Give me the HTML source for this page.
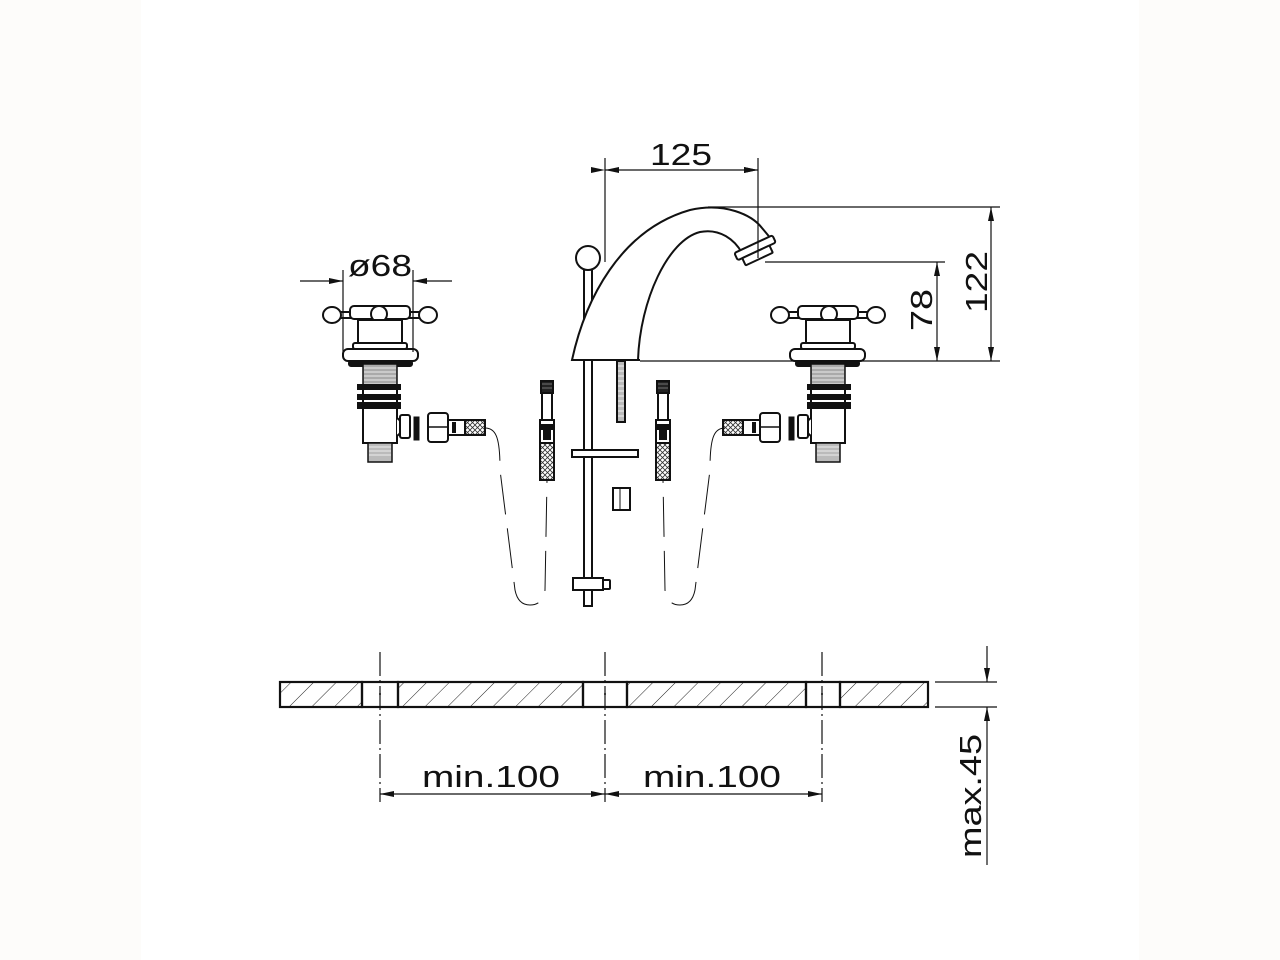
<!DOCTYPE html>
<html><head><meta charset="utf-8"><style>
html,body{margin:0;padding:0;background:#fdfcfa;}
svg{display:block;}
text{font-family:"Liberation Sans",sans-serif;fill:#111;}
</style></head><body>
<svg width="1280" height="960" viewBox="0 0 1280 960" xmlns="http://www.w3.org/2000/svg">
<defs>
<pattern id="hatch" patternUnits="userSpaceOnUse" width="16" height="16" patternTransform="rotate(45)">
<line x1="0" y1="0" x2="0" y2="16" stroke="#222" stroke-width="1"/>
</pattern>
<pattern id="braid" patternUnits="userSpaceOnUse" width="5" height="5">
<path d="M0 0L5 5M5 0L0 5" stroke="#333" stroke-width="0.8"/>
</pattern>
<marker id="ar" viewBox="0 0 14 6" refX="14" refY="3" markerWidth="14" markerHeight="6" orient="auto" markerUnits="userSpaceOnUse">
<path d="M0 0L14 3L0 6z" fill="#111"/>
</marker>
<g id="valve" fill="#fff" stroke="#111" stroke-width="2">
<!-- handle -->
<rect x="340" y="312" width="80" height="6" />
<ellipse cx="332" cy="315" rx="9" ry="8"/>
<ellipse cx="428" cy="315" rx="9" ry="8"/>
<rect x="350" y="306" width="60" height="13" rx="4"/>
<circle cx="379" cy="314" r="8"/>
<rect x="358" y="320" width="44" height="23"/>
<rect x="353" y="343" width="54" height="6" rx="2"/>
<rect x="343" y="349" width="75" height="12" rx="5"/>
<rect x="349" y="361" width="63" height="5" rx="2" fill="#111"/>
<rect x="363" y="364" width="34" height="23" fill="#aaa" stroke-width="1.5"/>
<g stroke="#fff" stroke-width="0.8"><line x1="364" y1="368" x2="396" y2="368"/><line x1="364" y1="372" x2="396" y2="372"/><line x1="364" y1="376" x2="396" y2="376"/><line x1="364" y1="380" x2="396" y2="380"/><line x1="364" y1="384" x2="396" y2="384"/></g>
<rect x="358" y="385" width="42" height="4" fill="#111"/>
<rect x="363" y="389" width="34" height="6"/>
<rect x="358" y="395" width="42" height="4" fill="#111"/>
<rect x="363" y="399" width="34" height="4"/>
<rect x="358" y="403" width="42" height="5" fill="#111"/>
<rect x="363" y="408" width="34" height="35"/>
<path d="M397 418 A8 10 0 0 1 397 436"/>
<rect x="400" y="415" width="10" height="23" rx="2"/>
<rect x="368" y="443" width="24" height="19" fill="#bbb" stroke-width="1.5"/>
<g stroke="#fff" stroke-width="0.8"><line x1="369" y1="447" x2="391" y2="447"/><line x1="369" y1="451" x2="391" y2="451"/><line x1="369" y1="455" x2="391" y2="455"/></g>
<rect x="414" y="417" width="5" height="23" fill="#111" stroke-width="1"/>
<rect x="428" y="413" width="20" height="29" rx="3"/>
<line x1="429" y1="427" x2="447" y2="427" stroke-width="1.5"/>
<rect x="448" y="420" width="17" height="15"/>
<rect x="452" y="422" width="4" height="11" fill="#111" stroke-width="0"/>
<rect x="465" y="420" width="20" height="15" fill="url(#braid)"/>
</g>
<g id="flex" fill="#fff" stroke="#111" stroke-width="2">
<rect x="541" y="381" width="12" height="12" fill="#222"/>
<line x1="542" y1="384" x2="552" y2="384" stroke="#888" stroke-width="0.8"/>
<line x1="542" y1="388" x2="552" y2="388" stroke="#888" stroke-width="0.8"/>
<rect x="542" y="393" width="10" height="27"/>
<rect x="540" y="420" width="14" height="23"/>
<rect x="540" y="425" width="14" height="4" fill="#111"/>
<rect x="543" y="430" width="8" height="10" fill="#111" stroke-width="0"/>
<rect x="540" y="443" width="14" height="37" fill="url(#braid)"/>
</g>
<g id="loop" fill="none" stroke="#111" stroke-width="1">
<path d="M485 428 C497 428 500 440 500 470 L515 590 Q518 605 530 605 Q543 605 545 590 L547 480" stroke-dasharray="40 14"/>
</g>
</defs>
<rect x="141" y="0" width="998" height="960" fill="#fff"/>

<use href="#valve"/>
<use href="#valve" transform="translate(1208,0) scale(-1,1)"/>
<use href="#flex"/>
<use href="#flex" transform="translate(1210,0) scale(-1,1)"/>
<use href="#loop"/>
<use href="#loop" transform="translate(1210,0) scale(-1,1)"/>

<!-- spout -->
<g fill="#fff" stroke="#111" stroke-width="2">
<rect x="584" y="268" width="8" height="338"/>
<circle cx="588" cy="258" r="12"/>
<path d="M572 360 C585 300 620 230 690 210 C725 202 752 215 762 228 L772 240 C770 246 767 248 764 250 L742 253 C735 240 720 228 700 232 C668 240 640 300 638 360 Z"/>
<line x1="572" y1="360" x2="640" y2="360"/>
<g transform="rotate(-25 755 250)"><rect x="735" y="244" width="42" height="8" rx="2"/><rect x="740" y="252" width="30" height="8" rx="1"/></g>
<rect x="617" y="361" width="8" height="61" fill="#bbb"/>
<rect x="572" y="450" width="66" height="7"/>
<rect x="613" y="488" width="17" height="22"/>
<line x1="620" y1="489" x2="620" y2="509" stroke-width="1"/>
<rect x="573" y="578" width="30" height="12"/>
<rect x="603" y="580" width="7" height="9" rx="1"/>
</g>
<g stroke="#fff" stroke-width="0.8"><line x1="618" y1="366" x2="624" y2="366"/><line x1="618" y1="371" x2="624" y2="371"/><line x1="618" y1="376" x2="624" y2="376"/><line x1="618" y1="381" x2="624" y2="381"/><line x1="618" y1="386" x2="624" y2="386"/><line x1="618" y1="391" x2="624" y2="391"/><line x1="618" y1="396" x2="624" y2="396"/><line x1="618" y1="401" x2="624" y2="401"/><line x1="618" y1="406" x2="624" y2="406"/><line x1="618" y1="411" x2="624" y2="411"/><line x1="618" y1="416" x2="624" y2="416"/></g>

<!-- dimensions top -->
<g stroke="#111" stroke-width="1.2" fill="none">
<line x1="605" y1="158" x2="605" y2="262"/>
<line x1="758" y1="158" x2="758" y2="258"/>
<line x1="605" y1="170" x2="758" y2="170" marker-start="url(#ar)" marker-end="url(#ar)" style="marker-start:url(#ar)"/>
<line x1="708" y1="207" x2="1000" y2="207"/>
<line x1="640" y1="361" x2="1000" y2="361"/>
<line x1="765" y1="262" x2="945" y2="262"/>
<line x1="991" y1="207" x2="991" y2="361"/>
<line x1="937" y1="262" x2="937" y2="361"/>
<line x1="343" y1="270" x2="343" y2="352"/>
<line x1="413" y1="270" x2="413" y2="352"/>
<line x1="300" y1="281" x2="343" y2="281" marker-end="url(#ar)"/>
<line x1="452" y1="281" x2="413" y2="281" marker-end="url(#ar)"/>
</g>
<g fill="#111">
<path d="M605 170l14 -3v6z"/><path d="M758 170l-14 -3v6z"/>
<path d="M991 207l-3 14h6z"/><path d="M991 361l-3 -14h6z"/>
<path d="M937 262l-3 14h6z"/><path d="M937 361l-3 -14h6z"/>
</g>
<text x="681" y="165" font-size="31" text-anchor="middle" textLength="62" lengthAdjust="spacingAndGlyphs">125</text>
<text x="380" y="276" font-size="31" text-anchor="middle" textLength="64" lengthAdjust="spacingAndGlyphs">ø68</text>
<text transform="translate(987,282) rotate(-90)" font-size="31" text-anchor="middle" textLength="62" lengthAdjust="spacingAndGlyphs">122</text>
<text transform="translate(932,310) rotate(-90)" font-size="31" text-anchor="middle" textLength="42" lengthAdjust="spacingAndGlyphs">78</text>

<!-- countertop -->
<g stroke="#111" stroke-width="2.2">
<rect x="280" y="682" width="82" height="25" fill="url(#hatch)"/>
<rect x="398" y="682" width="185" height="25" fill="url(#hatch)"/>
<rect x="627" y="682" width="179" height="25" fill="url(#hatch)"/>
<rect x="840" y="682" width="88" height="25" fill="url(#hatch)"/>
<rect x="362" y="682" width="36" height="25" fill="none"/>
<rect x="583" y="682" width="44" height="25" fill="none"/>
<rect x="806" y="682" width="34" height="25" fill="none"/>
</g>
<g fill="#111"><circle cx="380" cy="694" r="1"/><circle cx="605" cy="694" r="1"/><circle cx="822" cy="694" r="1"/></g>
<g stroke="#111" stroke-width="1.2" stroke-dasharray="24 4 2 4">
<line x1="380" y1="652" x2="380" y2="802"/>
<line x1="605" y1="652" x2="605" y2="802"/>
<line x1="822" y1="652" x2="822" y2="802"/>
</g>
<g stroke="#111" stroke-width="1.2" fill="none">
<line x1="380" y1="794" x2="822" y2="794"/>
<line x1="935" y1="682" x2="997" y2="682"/>
<line x1="935" y1="707" x2="997" y2="707"/>
<line x1="987" y1="646" x2="987" y2="682"/>
<line x1="987" y1="707" x2="987" y2="865"/>
</g>
<g fill="#111">
<path d="M380 794l14 -3v6z"/><path d="M605 794l-14 -3v6z"/>
<path d="M605 794l14 -3v6z"/><path d="M822 794l-14 -3v6z"/>
<path d="M987 682l-3 -14h6z"/><path d="M987 707l-3 14h6z"/>
</g>
<text x="491" y="787" font-size="31" text-anchor="middle" textLength="138" lengthAdjust="spacingAndGlyphs">min.100</text>
<text x="712" y="787" font-size="31" text-anchor="middle" textLength="138" lengthAdjust="spacingAndGlyphs">min.100</text>
<text transform="translate(981,796) rotate(-90)" font-size="31" text-anchor="middle" textLength="124" lengthAdjust="spacingAndGlyphs">max.45</text>
</svg>
</body></html>
